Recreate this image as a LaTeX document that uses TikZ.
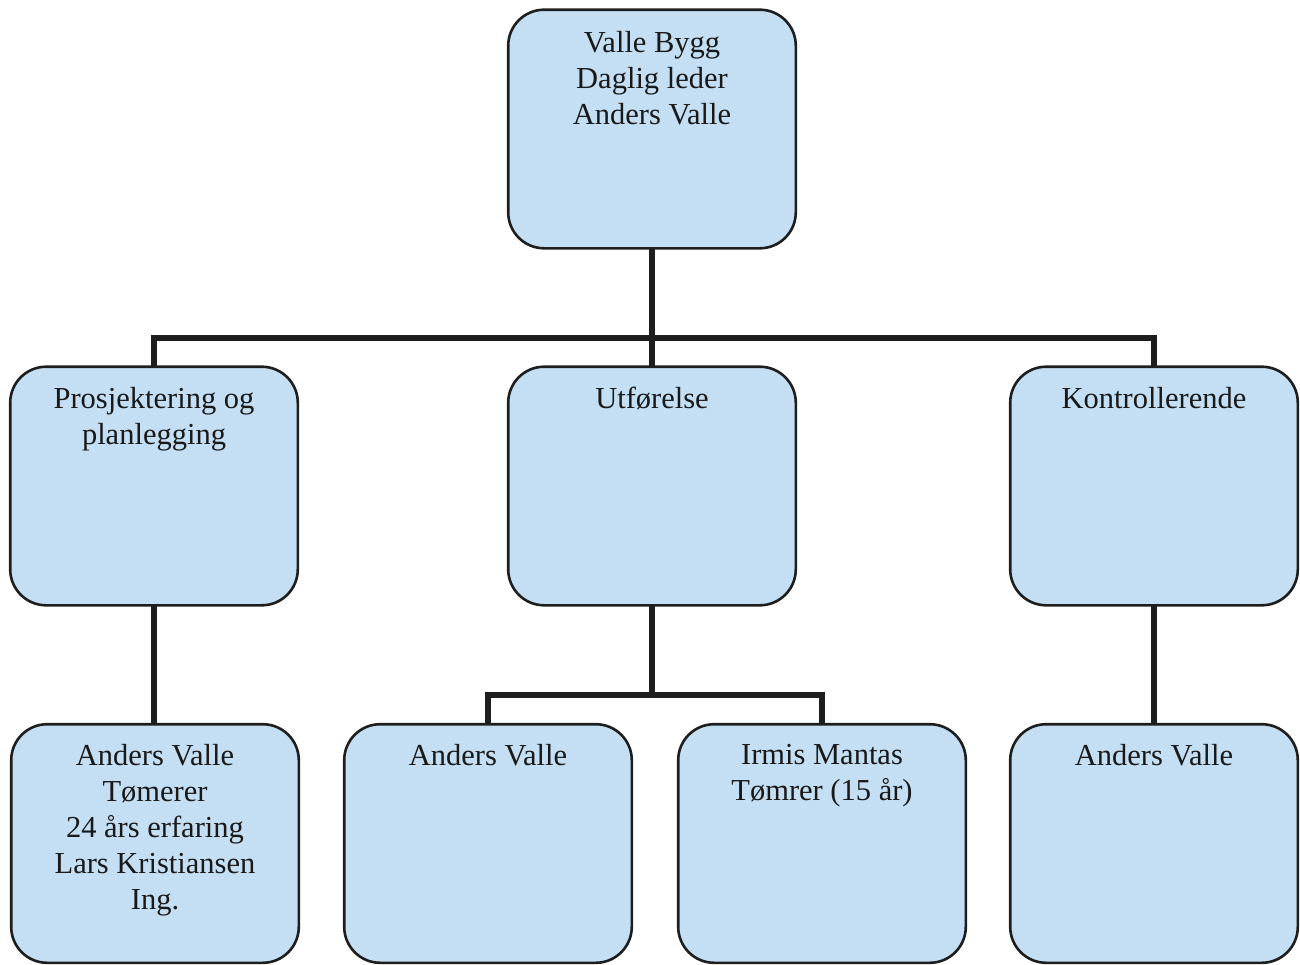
\documentclass[tikz,border=0pt]{standalone}
\usepackage{fontspec}
\setmainfont{Liberation Serif}
\definecolor{boxfill}{RGB}{196,223,243}
\definecolor{edge}{RGB}{30,30,30}
\begin{document}
\begin{tikzpicture}[x=1pt,y=-1pt,
  orgbox/.style={draw=edge, line width=2.6pt, fill=boxfill, rounded corners=36pt,
    minimum width=285pt, minimum height=236pt, inner sep=0pt},
  txt/.style={anchor=north, inner sep=0pt, align=center, text=black!90,
    font=\fontsize{30.5}{36}\selectfont},
  conn/.style={draw=edge, line width=5.2pt, line join=miter}]
\useasboundingbox (0,0) rectangle (1300,964);
\coordinate (bus) at (652,338);
\coordinate (cbus) at (652,695);
% boxes (positions)
\path (652,129) node[orgbox] (top) {};
\path (154,486) node[orgbox] (midL) {};
\path (652,486) node[orgbox] (midC) {};
\path (1154,486) node[orgbox] (midR) {};
\path (155,843.5) node[orgbox] (botL) {};
\path (488,843.5) node[orgbox] (botA) {};
\path (822,843.5) node[orgbox] (botB) {};
\path (1154,843.5) node[orgbox] (botR) {};
% connectors
\draw[conn] (top.south) -- (bus);
\draw[conn] (midL.north) |- (bus) -| (midR.north);
\draw[conn] (bus) -- (midC.north);
\draw[conn] (midL.south) -- (midL.south |- botL.north);
\draw[conn] (midC.south) -- (cbus);
\draw[conn] (botA.north) |- (cbus) -| (botB.north);
\draw[conn] (midR.south) -- (botR.north);
% redraw boxes on top
\foreach \n in {top,midL,midC,midR,botL,botA,botB,botR}{
  \draw[draw=edge, line width=2.6pt, fill=boxfill, rounded corners=36pt]
    (\n.south west) rectangle (\n.north east);
}
% texts
\node[txt] (ttop) at ([yshift=-21pt]top.north) {Valle Bygg\\Daglig leder\\Anders Valle};
\node[txt] (tmidL) at ([yshift=-20pt]midL.north) {Prosjektering og\\planlegging};
\node[txt] (tmidC) at ([yshift=-20pt]midC.north) {Utførelse};
\node[txt] (tmidR) at ([yshift=-20pt]midR.north) {Kontrollerende};
\node[txt] (tbotL) at ([yshift=-20pt]botL.north) {Anders Valle\\Tømerer\\24 års erfaring\\Lars Kristiansen\\Ing.};
\node[txt] (tbotA) at ([yshift=-20pt]botA.north) {Anders Valle};
\node[txt] (tbotB) at ([yshift=-20pt]botB.north) {Irmis Mantas\\Tømrer (15 år)};
\node[txt] (tbotR) at ([yshift=-20pt]botR.north) {Anders Valle};
\end{tikzpicture}
\end{document}
